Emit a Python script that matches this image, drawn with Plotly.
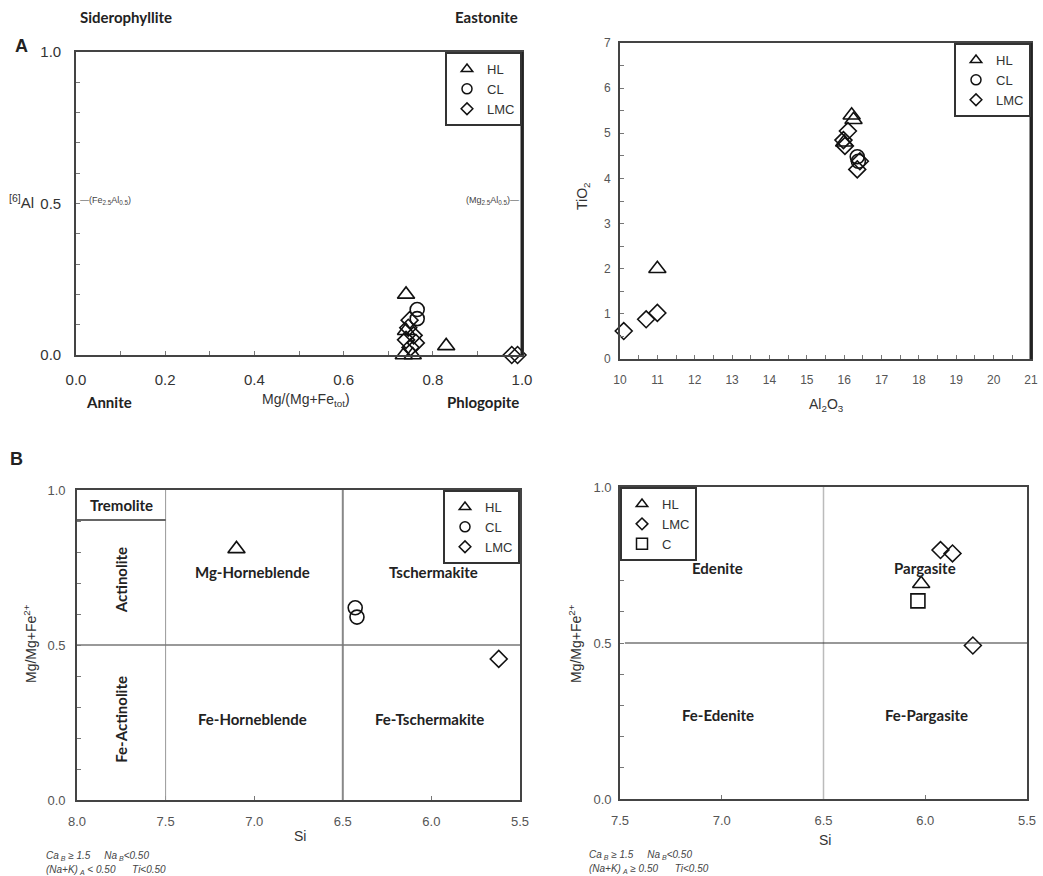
import plotly.graph_objects as go

# ---------------- DATA ----------------
# Panel A left: biotite  Mg/(Mg+Fe_tot) vs [6]Al
a1_hl_x = [0.74, 0.74, 0.735, 0.755, 0.83]
a1_hl_y = [0.20, 0.08, 0.0, 0.0, 0.03]
a1_cl_x = [0.765, 0.765]
a1_cl_y = [0.15, 0.12]
a1_lmc_x = [0.748, 0.745, 0.757, 0.74, 0.762, 0.75, 0.977, 0.99]
a1_lmc_y = [0.115, 0.09, 0.065, 0.05, 0.04, 0.025, 0.0, 0.0]
a1_xticks = [0.0, 0.1, 0.2, 0.3, 0.4, 0.5, 0.6, 0.7, 0.8, 0.9, 1.0]
a1_xlabels = ["0.0", "", "0.2", "", "0.4", "", "0.6", "", "0.8", "", "1.0"]
a1_yticks = [0.0, 0.1, 0.2, 0.3, 0.4, 0.5, 0.6, 0.7, 0.8, 0.9, 1.0]
a1_ylabels = ["0.0", "", "", "", "", "0.5", "", "", "", "", "1.0"]

# Panel A right: Al2O3 vs TiO2
a2_hl_x = [11.0, 16.2, 16.25, 16.0]
a2_hl_y = [2.0, 5.4, 5.3, 4.8]
a2_cl_x = [16.35, 16.38]
a2_cl_y = [4.48, 4.38]
a2_lmc_x = [10.1, 10.7, 11.0, 16.1, 15.98, 16.02, 16.35, 16.42]
a2_lmc_y = [0.62, 0.88, 1.02, 5.05, 4.85, 4.72, 4.2, 4.38]
a2_xticks = [10 + 0.5 * i for i in range(23)]
a2_xlabels = [str(int(v)) if v == int(v) else "" for v in a2_xticks]
a2_yticks = [0.5 * i for i in range(15)]
a2_ylabels = [str(int(v)) if v == int(v) else "" for v in a2_yticks]

# Panel B left: amphibole Si vs Mg/(Mg+Fe2+)  (CaB>=1.5, (Na+K)A<0.5)
b1_hl_x = [7.10]
b1_hl_y = [0.81]
b1_cl_x = [6.43, 6.42]
b1_cl_y = [0.62, 0.59]
b1_lmc_x = [5.62]
b1_lmc_y = [0.455]
b1_xticks = [8.0, 7.5, 7.0, 6.5, 6.0, 5.5]
b1_xlabels = ["8.0", "7.5", "7.0", "6.5", "6.0", "5.5"]
b_yticks = [0.0, 0.1, 0.2, 0.3, 0.4, 0.5, 0.6, 0.7, 0.8, 0.9, 1.0]
b_ylabels = ["0.0", "", "", "", "", "0.5", "", "", "", "", "1.0"]

# Panel B right: (Na+K)A>=0.5
b2_hl_x = [6.02]
b2_hl_y = [0.69]
b2_lmc_x = [5.925, 5.866, 5.766]
b2_lmc_y = [0.798, 0.787, 0.492]
b2_c_x = [6.036]
b2_c_y = [0.635]
b2_xticks = [7.5, 7.0, 6.5, 6.0, 5.5]
b2_xlabels = ["7.5", "7.0", "6.5", "6.0", "5.5"]

# classification boundaries
b1_si_bounds = [7.5, 6.5]
b2_si_bounds = [6.5]
mg_bound = 0.5
tremolite_bound = 0.903

# ---------------- FIGURE ----------------
W, H = 1043, 876


def px_x(a, b):
    return [a / W, b / W]


def px_y(top, bottom):
    return [1 - bottom / H, 1 - top / H]


fig = go.Figure()

SYM = {"HL": "triangle-up-open", "CL": "circle-open", "LMC": "diamond-open", "C": "square-open"}
SIZE = {"HL": 15, "CL": 14, "LMC": 13, "C": 14}
LEG_SIZE = {"HL": 10, "CL": 10, "LMC": 9, "C": 11}


def add(xs, ys, name, axis, legend):
    fig.add_trace(go.Scatter(
        x=xs, y=ys, mode="markers", name=name, showlegend=False,
        xaxis="x" + axis, yaxis="y" + axis,
        cliponaxis=False,
        marker=dict(symbol=SYM[name], size=SIZE[name], color="#111",
                    line=dict(width=1.6, color="#111")),
    ))
    # legend-only entry with a small symbol
    fig.add_trace(go.Scatter(
        x=[None], y=[None], mode="markers", name=name, showlegend=True,
        xaxis="x" + axis, yaxis="y" + axis, legend=legend, hoverinfo="skip",
        marker=dict(symbol=SYM[name], size=LEG_SIZE[name], color="#111",
                    line=dict(width=1.5, color="#111")),
    ))


add(a1_hl_x, a1_hl_y, "HL", "", "legend")
add(a1_cl_x, a1_cl_y, "CL", "", "legend")
add(a1_lmc_x, a1_lmc_y, "LMC", "", "legend")
add(a2_hl_x, a2_hl_y, "HL", "2", "legend2")
add(a2_cl_x, a2_cl_y, "CL", "2", "legend2")
add(a2_lmc_x, a2_lmc_y, "LMC", "2", "legend2")
add(b1_hl_x, b1_hl_y, "HL", "3", "legend3")
add(b1_cl_x, b1_cl_y, "CL", "3", "legend3")
add(b1_lmc_x, b1_lmc_y, "LMC", "3", "legend3")
add(b2_hl_x, b2_hl_y, "HL", "4", "legend4")
add(b2_lmc_x, b2_lmc_y, "LMC", "4", "legend4")
add(b2_c_x, b2_c_y, "C", "4", "legend4")

TICKFONT = dict(family="Liberation Sans, Arial, sans-serif", color="#555")


def axis(domain, rng, tickvals, ticktext, size, anchor, standoff, lw=1.6):
    return dict(domain=domain, range=rng, anchor=anchor, showgrid=False, zeroline=False,
                showline=True, mirror=True, linecolor="#444", linewidth=lw,
                ticks="inside", ticklen=4, tickcolor="#777", tickwidth=1,
                tickvals=tickvals, ticktext=ticktext, automargin=False,
                ticklabelstandoff=standoff,
                tickfont=dict(size=size, **TICKFONT), fixedrange=True)


fig.update_layout(
    width=W, height=H, autosize=False,
    margin=dict(l=0, r=0, t=0, b=0, pad=0, autoexpand=False),
    paper_bgcolor="white", plot_bgcolor="white",
    font=dict(family="Liberation Sans, Arial, sans-serif", color="#222"),
    xaxis=axis(px_x(76, 522), [0, 1], a1_xticks, a1_xlabels, 15, "y", 10),
    yaxis=axis(px_y(52, 355), [0, 1], a1_yticks, a1_ylabels, 15, "x", 10),
    xaxis2=axis(px_x(620, 1031), [10, 21], a2_xticks, a2_xlabels, 12, "y2", 9),
    yaxis2=axis(px_y(43, 359), [0, 7], a2_yticks, a2_ylabels, 12, "x2", 5),
    xaxis3=axis(px_x(77, 520), [8.0, 5.5], b1_xticks, b1_xlabels, 13, "y3", 9),
    yaxis3=axis(px_y(490, 800), [0, 1], b_yticks, b_ylabels, 13, "x3", 7),
    xaxis4=axis(px_x(620, 1027), [7.5, 5.5], b2_xticks, b2_xlabels, 13, "y4", 9),
    yaxis4=axis(px_y(487, 799), [0, 1], b_yticks, b_ylabels, 13, "x4", 4),
)
fig.update_layout(xaxis=dict(tickfont=dict(color="#333")), yaxis=dict(tickfont=dict(color="#333")))


def legend_cfg(x, y, xanchor):
    return dict(x=x, y=y, xref="paper", yref="paper", xanchor=xanchor, yanchor="top",
                bgcolor="white", bordercolor="#333", borderwidth=2,
                font=dict(size=13, color="#333", family="Liberation Sans, Arial, sans-serif"),
                itemsizing="trace", itemwidth=30, tracegroupgap=0)


fig.update_layout(
    legend=legend_cfg(522 / W, 1 - 52 / H, "right"),
    legend2=legend_cfg(1031 / W, 1 - 43 / H, "right"),
    legend3=legend_cfg(520 / W, 1 - 490 / H, "right"),
    legend4=legend_cfg(620 / W, 1 - 487 / H, "left"),
)

shapes = []
# thick right borders of panel A plots
shapes.append(dict(type="line", xref="x domain", yref="y domain", x0=1, x1=1, y0=0, y1=1,
                   line=dict(color="#222", width=3)))
shapes.append(dict(type="line", xref="x2 domain", yref="y2 domain", x0=1, x1=1, y0=0, y1=1,
                   line=dict(color="#222", width=3)))
# B left boundaries
shapes.append(dict(type="line", xref="x3", yref="y3 domain", x0=b1_si_bounds[0], x1=b1_si_bounds[0],
                   y0=0, y1=1, line=dict(color="#999", width=1)))
shapes.append(dict(type="line", xref="x3", yref="y3 domain", x0=b1_si_bounds[1], x1=b1_si_bounds[1],
                   y0=0, y1=1, line=dict(color="#888", width=2)))
shapes.append(dict(type="line", xref="x3 domain", yref="y3", x0=0, x1=1, y0=mg_bound, y1=mg_bound,
                   line=dict(color="#777", width=1.5)))
shapes.append(dict(type="line", xref="x3", yref="y3", x0=8.0, x1=b1_si_bounds[0],
                   y0=tremolite_bound, y1=tremolite_bound, line=dict(color="#333", width=1.5)))
# B right boundaries
shapes.append(dict(type="line", xref="x4", yref="y4 domain", x0=b2_si_bounds[0], x1=b2_si_bounds[0],
                   y0=0, y1=1, line=dict(color="#bbb", width=1.5)))
shapes.append(dict(type="line", xref="x4 domain", yref="y4", x0=0.012, x1=1, y0=mg_bound, y1=mg_bound,
                   line=dict(color="#333", width=1.2)))
fig.update_layout(shapes=shapes)

BOLD = "Lato, Liberation Sans, sans-serif"
SANS = "Liberation Sans, Arial, sans-serif"
NB = "\u00a0"
ann = []


def txt(text, x, y, xref="paper", yref="paper", size=12, family=SANS, color="#222",
        xanchor="center", yanchor="middle", angle=0):
    ann.append(dict(text=text, x=x, y=y, xref=xref, yref=yref, showarrow=False,
                    font=dict(size=size, family=family, color=color),
                    xanchor=xanchor, yanchor=yanchor, textangle=angle))


# panel letters
txt("<b>A</b>", 21 / W, 1 - 46 / H, size=18, family="Liberation Sans, Arial")
txt("<b>B</b>", 16 / W, 1 - 459 / H, size=18, family="Liberation Sans, Arial")

# Panel A left end-members
ES = 15
txt("<b>Siderophyllite</b>", 78 / W, 1 - 17 / H, size=ES, family=BOLD, xanchor="left")
txt("<b>Eastonite</b>", 520 / W, 1 - 17 / H, size=ES, family=BOLD, xanchor="right")
txt("<b>Annite</b>", 84 / W, 1 - 402 / H, size=ES, family=BOLD, xanchor="left")
txt("<b>Phlogopite</b>", 521 / W, 1 - 402 / H, size=ES, family=BOLD, xanchor="right")
txt("Mg/(Mg+Fe<sub>tot</sub>)", 306 / W, 1 - 400 / H, size=14, color="#333")
txt("<sup>[6]</sup>Al", 36 / W, 1 - 201 / H, size=15, color="#333", xanchor="right")
txt("—(Fe<sub>2.5</sub>Al<sub>0.5</sub>)", 78 / W, 1 - 200 / H, size=9, color="#444", xanchor="left")
txt("(Mg<sub>2.5</sub>Al<sub>0.5</sub>)—", 521 / W, 1 - 200 / H, size=9, color="#444", xanchor="right")

# Panel A right titles
txt("TiO<sub>2</sub>", 583 / W, 1 - 196 / H, size=14, color="#333", angle=-90)
txt("Al<sub>2</sub>O<sub>3</sub>", 826 / W, 1 - 405 / H, size=14, color="#333")

# Panel B left
RS = 15
txt("<b>Tremolite</b>", 7.75, 0.952, xref="x3", yref="y3", size=RS, family=BOLD)
txt("<b>Actinolite</b>", 7.75, 0.71, xref="x3", yref="y3", size=RS, family=BOLD, angle=-90)
txt("<b>Fe-Actinolite</b>", 7.75, 0.26, xref="x3", yref="y3", size=RS, family=BOLD, angle=-90)
txt("<b>Mg-Horneblende</b>", 7.01, 0.736, xref="x3", yref="y3", size=RS, family=BOLD)
txt("<b>Tschermakite</b>", 5.99, 0.736, xref="x3", yref="y3", size=RS, family=BOLD)
txt("<b>Fe-Horneblende</b>", 7.01, 0.26, xref="x3", yref="y3", size=RS, family=BOLD)
txt("<b>Fe-Tschermakite</b>", 6.01, 0.26, xref="x3", yref="y3", size=RS, family=BOLD)
txt("Si", 300 / W, 1 - 836 / H, size=14, color="#333")
txt("Mg/Mg+Fe<sup>2+</sup>", 30 / W, 1 - 644 / H, size=14, color="#333", angle=-90)
txt("<i>Ca<sub>" + NB + "B</sub>" + NB + "≥" + NB + "1.5" + NB * 5 + "Na<sub>" + NB + "B</sub><0.50</i>",
    44 / W, 1 - 856 / H, size=10, color="#444", xanchor="left")
txt("<i>(Na+K)<sub>" + NB + "A</sub>" + NB + "<" + NB + "0.50" + NB * 6 + "Ti<0.50</i>",
    44 / W, 1 - 870 / H, size=10, color="#444", xanchor="left")

# Panel B right
txt("<b>Edenite</b>", 7.02, 0.739, xref="x4", yref="y4", size=RS, family=BOLD)
txt("<b>Pargasite</b>", 6.0, 0.739, xref="x4", yref="y4", size=RS, family=BOLD)
txt("<b>Fe-Edenite</b>", 7.02, 0.27, xref="x4", yref="y4", size=RS, family=BOLD)
txt("<b>Fe-Pargasite</b>", 5.995, 0.27, xref="x4", yref="y4", size=RS, family=BOLD)
txt("Si", 825 / W, 1 - 840 / H, size=14, color="#333")
txt("Mg/Mg+Fe<sup>2+</sup>", 575 / W, 1 - 644 / H, size=14, color="#333", angle=-90)
txt("<i>Ca<sub>" + NB + "B</sub>" + NB + "≥" + NB + "1.5" + NB * 5 + "Na<sub>" + NB + "B</sub><0.50</i>",
    587 / W, 1 - 855 / H, size=10, color="#444", xanchor="left")
txt("<i>(Na+K)<sub>" + NB + "A</sub>" + NB + "≥" + NB + "0.50" + NB * 6 + "Ti<0.50</i>",
    587 / W, 1 - 869 / H, size=10, color="#444", xanchor="left")

fig.update_layout(annotations=ann)

fig.write_html(
    "out.html",
    config={"displayModeBar": False},
    post_script="document.body.style.margin='0';document.body.style.padding='0';"
                "document.body.style.overflow='hidden';",
)
